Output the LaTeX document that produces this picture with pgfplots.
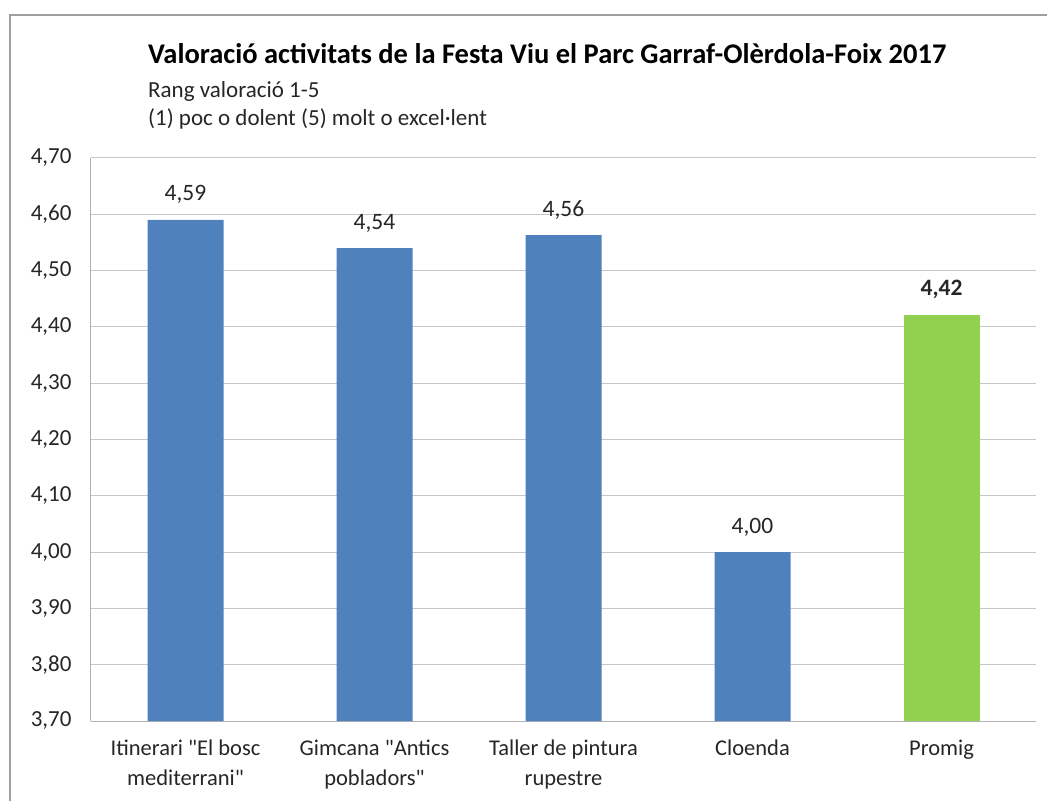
\documentclass[border=0pt]{standalone}
\usepackage{fontspec}
\setmainfont{Carlito}
\usepackage{pgfplots}
\pgfplotsset{compat=1.18}
\definecolor{barblue}{HTML}{4F81BD}
\definecolor{bargreen}{HTML}{92D050}
\definecolor{txt}{HTML}{262626}
\begin{document}
\begin{tikzpicture}
\path[use as bounding box] (0pt,0pt) rectangle (1047pt,801pt);
\draw[gray!75, line width=2pt] (10pt,0pt) -- (10pt,786pt) -- (1047pt,786pt);
\node[anchor=base west, inner sep=0pt, font=\fontsize{28.5}{32}\selectfont\bfseries] at (148pt,737pt) {Valoració activitats de la Festa Viu el Parc Garraf-Olèrdola-Foix 2017};
\node[anchor=base west, inner sep=0pt, font=\fontsize{23}{26}\selectfont, text=txt] at (148pt,703pt) {Rang valoració 1-5};
\node[anchor=base west, inner sep=0pt, font=\fontsize{23}{26}\selectfont, text=txt] at (148pt,675pt) {(1) poc o dolent (5) molt o excel·lent};
\begin{axis}[at={(91pt,80pt)}, anchor=south west, scale only axis,
  width=945pt, height=563pt,
  ymin=3.7, ymax=4.7, ytick={3.7,3.8,3.9,4.0,4.1,4.2,4.3,4.4,4.5,4.6,4.7},
  xmin=-0.5, xmax=4.5, xtick={0,1,2,3,4},
  xticklabels={{Itinerari \textquotedbl El bosc\\mediterrani\textquotedbl},{Gimcana \textquotedbl Antics\\pobladors\textquotedbl},{Taller de pintura\\rupestre},{Cloenda},{Promig}},
  axis lines*=left,
  axis line style={gray!60, line width=1pt},
  ymajorgrids, grid style={gray!45, line width=1pt},
  tick style={draw=none},
  /pgf/number format/assume math mode=true,
  /pgf/number format/.cd, fixed, fixed zerofill, precision=2, use comma, /pgfplots/.cd,
  yticklabel style={font=\fontsize{23}{26}\selectfont, text=txt, xshift=-16pt},
  xticklabel style={font=\fontsize{22.5}{30}\selectfont, text=txt, align=center, yshift=-11pt},
  ybar, bar width=76pt, bar shift=0pt,
  nodes near coords,
  every node near coord/.append style={font=\fontsize{23.5}{26}\selectfont, text=txt, anchor=base, yshift=19pt},
  clip=false,
]
\addplot[fill=barblue, draw=none] coordinates {(0,4.59) (1,4.54) (2,4.563) (3,4.00)};
\addplot[fill=bargreen, draw=none, every node near coord/.append style={font=\fontsize{23.5}{26}\selectfont\bfseries}] coordinates {(4,4.422)};
\end{axis}
\end{tikzpicture}
\end{document}
